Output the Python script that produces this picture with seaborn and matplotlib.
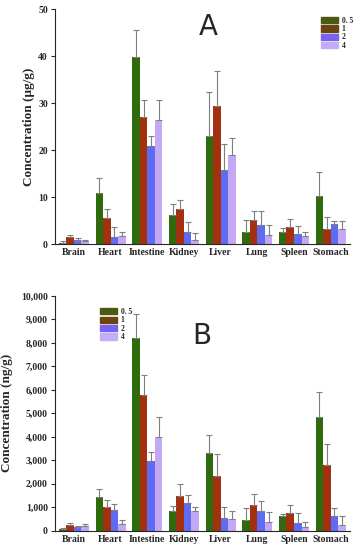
import numpy as np
import pandas as pd
import matplotlib
matplotlib.use("Agg")
import matplotlib.pyplot as plt
from matplotlib.ticker import FuncFormatter
import seaborn as sns

organs = ["Brain", "Heart", "Intestine", "Kidney", "Liver", "Lung", "Spleen", "Stomach"]
times = ["0. 5", "1", "2", "4"]

# panel A, ug/g
a_05 = [0.2, 10.8, 39.8, 6.2, 23.0, 2.5, 2.7, 10.2]
a_1 = [1.5, 5.6, 27.0, 7.6, 29.5, 5.2, 3.7, 3.3]
a_2 = [1.0, 1.5, 21.0, 2.6, 15.8, 4.0, 2.1, 4.3]
a_4 = [0.6, 1.8, 26.4, 0.8, 18.9, 2.0, 1.8, 3.3]
a_05_sd = [0.5, 3.3, 5.8, 2.4, 9.3, 2.6, 0.8, 5.2]
a_1_sd = [0.5, 1.9, 3.8, 1.9, 7.4, 1.9, 1.6, 2.5]
a_2_sd = [0.3, 2.1, 2.1, 2.1, 5.6, 3.1, 1.8, 0.7]
a_4_sd = [0.4, 0.8, 4.4, 1.6, 3.7, 2.0, 0.9, 1.7]

# panel B, ng/g
b_05 = [80, 1450, 8200, 850, 3300, 440, 610, 4850]
b_1 = [260, 1030, 5780, 1500, 2320, 1080, 770, 2800]
b_2 = [150, 900, 2960, 1200, 560, 820, 330, 640]
b_4 = [200, 300, 4000, 820, 480, 360, 160, 260]
b_05_sd = [40, 320, 1030, 190, 760, 530, 110, 1040]
b_1_sd = [90, 280, 860, 500, 950, 470, 320, 890]
b_2_sd = [50, 240, 380, 320, 450, 440, 410, 310]
b_4_sd = [80, 170, 840, 190, 340, 420, 200, 360]

palette = ["#2f6a0c", "#a3300f", "#5f6cf2", "#c3a8f6"]
legend_colors = ["#4a5a10", "#6b4510", "#7a62f0", "#c2aef8"]


def make_df(vals, sds):
    rows = []
    for t, v, s in zip(times, vals, sds):
        for o, vv, ss in zip(organs, v, s):
            rows.append({"organ": o, "time": t, "value": vv, "sd": ss})
    return pd.DataFrame(rows)


def style_ticklabels(ax):
    for lab in ax.get_xticklabels() + ax.get_yticklabels():
        lab.set_fontweight("bold")
        lab.set_family("Liberation Serif")
        lab.set_fontsize(7)


def draw_panel(ax, df, ylabel, letter, letter_pos, legend_loc, label_x):
    sns.barplot(data=df, x="organ", y="value", hue="time", order=organs, hue_order=times,
                palette=palette, errorbar=None, width=0.82, saturation=1, gap=0,
                linewidth=0, ax=ax, legend=False)
    # one-sided error bars on top of each bar
    for i, t in enumerate(times):
        cont = ax.containers[i]
        sub = df[df["time"] == t].set_index("organ").loc[organs]
        xs = [p.get_x() + p.get_width() / 2 for p in cont.patches]
        ax.errorbar(xs, sub["value"].values, yerr=[np.zeros(len(xs)), sub["sd"].values],
                    fmt="none", ecolor="#7f7f7f", elinewidth=0.8, capsize=2, capthick=0.8)
    sns.despine(ax=ax)
    ax.set_xlabel("")
    ax.set_ylabel(ylabel, fontsize=9.5, fontweight="bold", family="Liberation Serif")
    ax.yaxis.set_label_coords(label_x, 0.5)
    ax.tick_params(axis="x", length=0, pad=3)
    ax.tick_params(axis="y", length=3, width=0.8, direction="out", pad=2)
    ax.set_xlim(-0.52, 7.52)
    ax.text(letter_pos[0], letter_pos[1], letter, transform=ax.transAxes, fontsize=20,
            family="DejaVu Sans", ha="center", va="center")
    handles = [plt.Rectangle((0, 0), 1, 1, color=c) for c in legend_colors]
    ax.legend(handles, times, loc="upper left", bbox_to_anchor=legend_loc, frameon=False,
              prop={"family": "Liberation Serif", "size": 5.5, "weight": "bold"},
              handlelength=2.2, handleheight=0.9, labelspacing=0.05, handletextpad=0.5,
              borderpad=0)
    return ax


fig = plt.figure(figsize=(3.54, 5.5), dpi=100)
sns.set_style("ticks")

ax1 = fig.add_axes([0.155, 0.556, 0.833, 0.427])
df_a = make_df([a_05, a_1, a_2, a_4], [a_05_sd, a_1_sd, a_2_sd, a_4_sd])
draw_panel(ax1, df_a, "Concentration (μg/g)", "A", (0.52, 0.925), (0.89, 0.985), -0.068)
ax1.set_ylim(0, 50)
ax1.set_yticks([0, 10, 20, 30, 40, 50])
style_ticklabels(ax1)

ax2 = fig.add_axes([0.155, 0.035, 0.833, 0.427])
df_b = make_df([b_05, b_1, b_2, b_4], [b_05_sd, b_1_sd, b_2_sd, b_4_sd])
draw_panel(ax2, df_b, "Concentration (ng/g)", "B", (0.5, 0.83), (0.14, 0.965), -0.142)
ax2.set_ylim(0, 10000)
ax2.set_yticks(np.arange(0, 10001, 1000))
ax2.yaxis.set_major_formatter(FuncFormatter(lambda v, p: f"{int(v):,}"))
style_ticklabels(ax2)

fig.savefig("out.png", dpi=100)
